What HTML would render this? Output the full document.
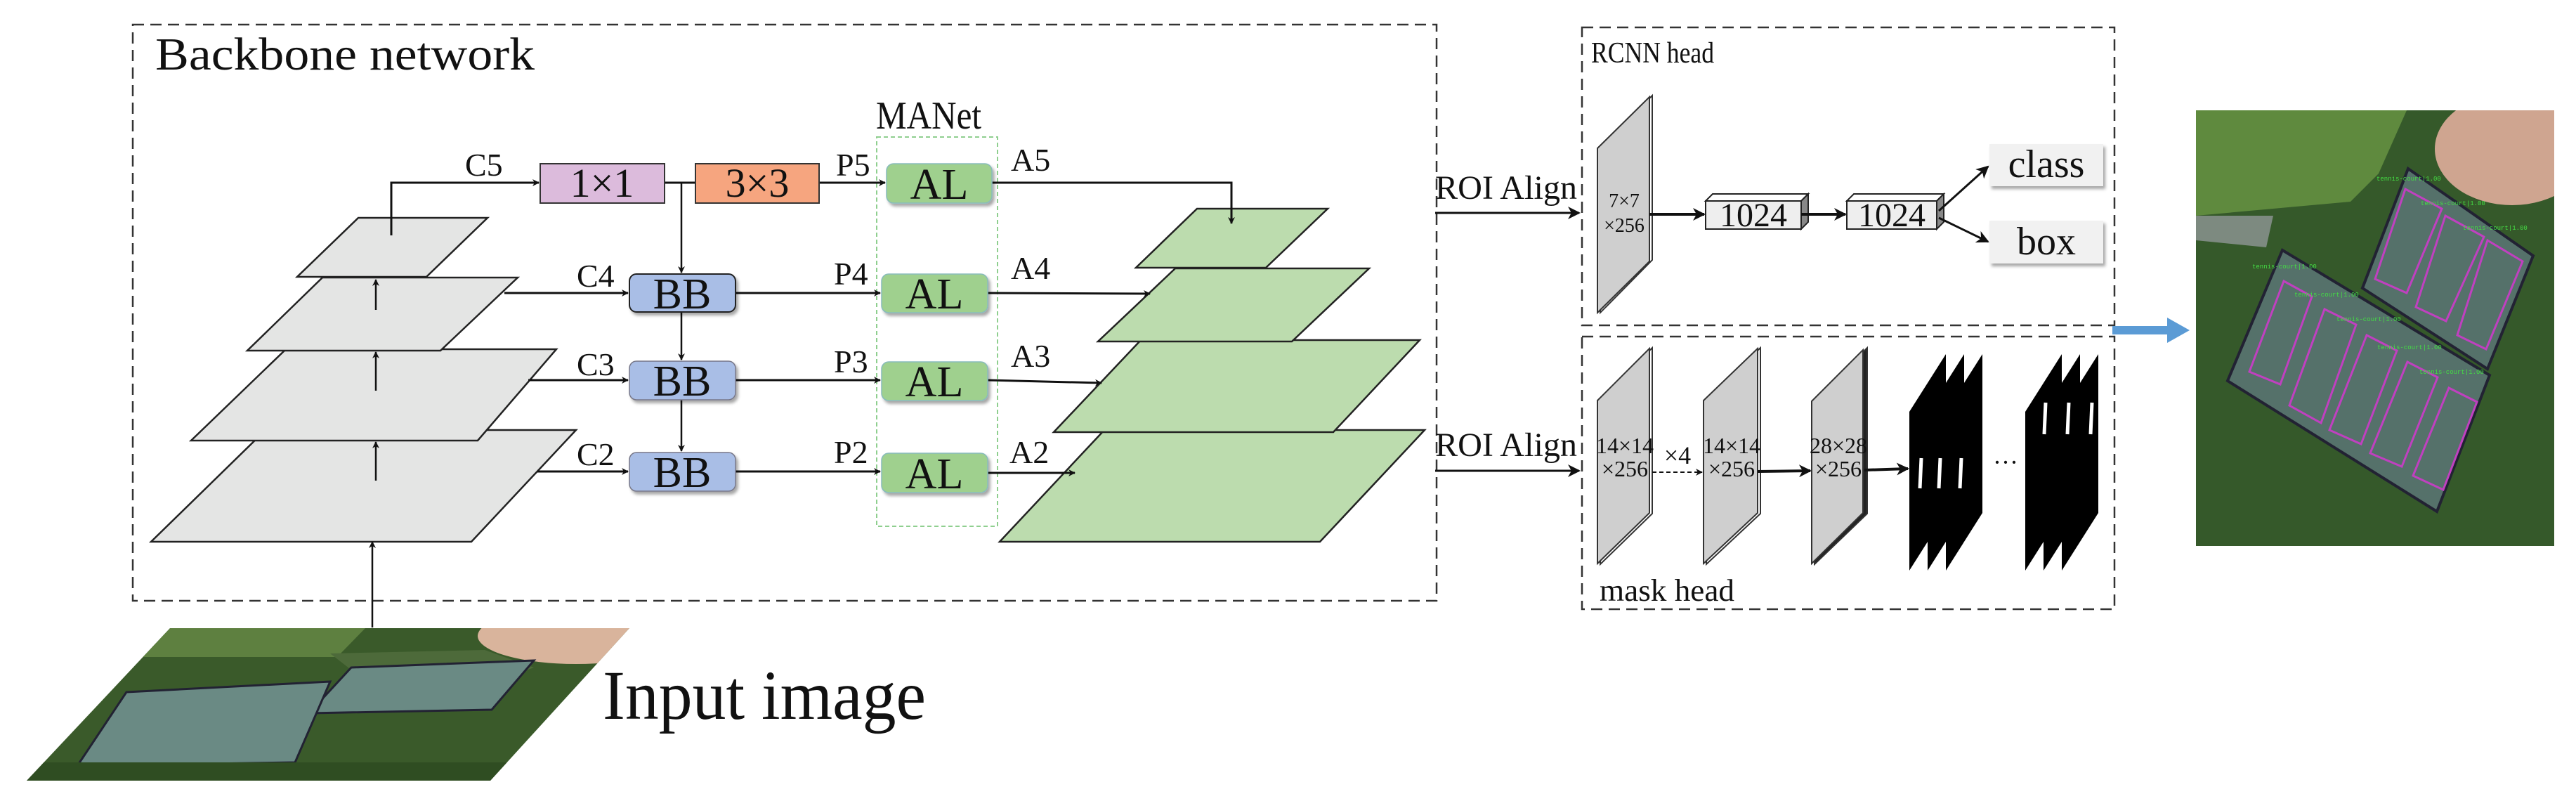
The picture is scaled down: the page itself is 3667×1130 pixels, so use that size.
<!DOCTYPE html>
<html><head><meta charset="utf-8"><style>
html,body{margin:0;padding:0;background:#fff;}
svg{display:block;}
</style></head><body>
<svg width="3667" height="1130" viewBox="0 0 3667 1130" xmlns="http://www.w3.org/2000/svg" font-family="'Liberation Serif','Times New Roman','DejaVu Serif',serif" fill="#111">
<defs>
<marker id="ah" markerWidth="10" markerHeight="10" refX="9" refY="5" orient="auto" markerUnits="userSpaceOnUse" viewBox="0 0 10 10">
<path d="M0,0 L10,5 L0,10 L3,5 z" fill="#111"/></marker>
<marker id="ahb" markerWidth="18" markerHeight="18" refX="16" refY="9" orient="auto" markerUnits="userSpaceOnUse" viewBox="0 0 18 18">
<path d="M0,0 L18,9 L0,18 L5,9 z" fill="#111"/></marker>
<filter id="sh" x="-10%" y="-10%" width="130%" height="140%"><feDropShadow dx="3" dy="4" stdDeviation="2" flood-color="#000" flood-opacity="0.35"/></filter>
<clipPath id="inClip"><polygon points="242,894 896,894 698,1111 38,1111"/></clipPath>
<clipPath id="phClip"><rect x="0" y="0" width="510" height="620"/></clipPath>
</defs>

<rect x="189" y="35" width="1856" height="820" fill="none" stroke="#333" stroke-width="2.5" stroke-dasharray="16,9"/>
<text x="221" y="99" font-size="66" textLength="540" lengthAdjust="spacingAndGlyphs">Backbone network</text>

<rect x="1248" y="195" width="172" height="554" fill="none" stroke="#8fcf8f" stroke-width="2" stroke-dasharray="6,4"/>
<text x="1247" y="183" font-size="56" textLength="150" lengthAdjust="spacingAndGlyphs">MANet</text>

<g fill="#e4e5e4" stroke="#222" stroke-width="2.5">
<polygon points="378,612 820,612 671,771 215,771"/>
<polygon points="407,497 792,497 680,627 272,627"/>
<polygon points="459,395 737,395 627,499 352,499"/>
<polygon points="510,310 694,310 607,394 423,394"/>
</g>
<g fill="#bcdcae" stroke="#222" stroke-width="2.5">
<polygon points="1572,612 2028,612 1879,771 1423,771"/>
<polygon points="1624,484 2021,484 1898,615 1500,615"/>
<polygon points="1673,382 1949,382 1839,486 1563,486"/>
<polygon points="1704,297 1890,297 1802,381 1617,381"/>
</g>

<g stroke="#111" stroke-width="2.5" fill="none" marker-end="url(#ah)">
<line x1="535" y1="441" x2="535" y2="398"/>
<line x1="535" y1="556" x2="535" y2="501"/>
<line x1="535" y1="684" x2="535" y2="629"/>
<line x1="530" y1="893" x2="530" y2="771"/>
</g>

<polyline points="557,335 557,260 767,260" stroke="#111" stroke-width="3" fill="none" marker-end="url(#ah)"/>
<line x1="946" y1="260" x2="990" y2="260" stroke="#111" stroke-width="3"/>
<line x1="970" y1="260" x2="970" y2="388" stroke="#111" stroke-width="2.5" marker-end="url(#ah)"/>
<line x1="970" y1="444" x2="970" y2="512" stroke="#111" stroke-width="2.5" marker-end="url(#ah)"/>
<line x1="970" y1="569" x2="970" y2="642" stroke="#111" stroke-width="2.5" marker-end="url(#ah)"/>
<line x1="1166" y1="260" x2="1260" y2="260" stroke="#111" stroke-width="3" marker-end="url(#ah)"/>

<g stroke="#111" stroke-width="3" fill="none" marker-end="url(#ah)">
<line x1="718" y1="417" x2="894" y2="417"/>
<line x1="752" y1="541" x2="894" y2="541"/>
<line x1="765" y1="671" x2="894" y2="671"/>
<line x1="1047" y1="417" x2="1253" y2="417"/>
<line x1="1047" y1="541" x2="1253" y2="541"/>
<line x1="1047" y1="671" x2="1253" y2="671"/>
<line x1="1406" y1="417" x2="1637" y2="418"/>
<line x1="1406" y1="541" x2="1568" y2="545"/>
<line x1="1406" y1="673" x2="1530" y2="673"/>
<polyline points="1412,260 1753,260 1753,318"/>
</g>

<rect x="769" y="233" width="177" height="56" fill="#dcbbdc" stroke="#333" stroke-width="2"/>
<text x="857" y="280" font-size="58" text-anchor="middle">1×1</text>
<rect x="990" y="233" width="176" height="56" fill="#f6a57f" stroke="#333" stroke-width="2"/>
<text x="1078" y="280" font-size="58" text-anchor="middle">3×3</text>

<g filter="url(#sh)">
<rect x="896" y="390" width="151" height="54" rx="10" fill="#a9bee6" stroke="#222" stroke-width="2"/>
<rect x="896" y="514" width="151" height="55" rx="10" fill="#a9bee6" stroke="#778" stroke-width="1.5"/>
<rect x="896" y="644" width="151" height="55" rx="10" fill="#a9bee6" stroke="#778" stroke-width="1.5"/>
<rect x="1262" y="233" width="150" height="56" rx="10" fill="#9fd08e" stroke="#8bb" stroke-width="1.5"/>
<rect x="1255" y="390" width="151" height="55" rx="10" fill="#9fd08e" stroke="#8bb" stroke-width="1.5"/>
<rect x="1255" y="515" width="151" height="55" rx="10" fill="#9fd08e" stroke="#8bb" stroke-width="1.5"/>
<rect x="1255" y="645" width="151" height="56" rx="10" fill="#9fd08e" stroke="#8bb" stroke-width="1.5"/>
</g>
<g font-size="62" text-anchor="middle">
<text x="971" y="439">BB</text>
<text x="971" y="563">BB</text>
<text x="971" y="693">BB</text>
<text x="1337" y="283">AL</text>
<text x="1330" y="439">AL</text>
<text x="1330" y="564">AL</text>
<text x="1330" y="695">AL</text>
</g>
<g font-size="46">
<text x="662" y="250">C5</text>
<text x="821" y="408">C4</text>
<text x="821" y="534">C3</text>
<text x="821" y="662">C2</text>
<text x="1190" y="250">P5</text>
<text x="1187" y="405">P4</text>
<text x="1187" y="530">P3</text>
<text x="1187" y="659">P2</text>
<text x="1439" y="243">A5</text>
<text x="1439" y="397">A4</text>
<text x="1439" y="522">A3</text>
<text x="1437" y="659">A2</text>
</g>

<g clip-path="url(#inClip)">
<rect x="30" y="890" width="880" height="230" fill="#3a5a2a"/>
<polygon points="242,894 520,894 480,935 200,935" fill="#5e8040"/>
<ellipse cx="820" cy="905" rx="140" ry="40" fill="#d9b49c"/>
<polygon points="470,930 690,925 760,950 600,1010 560,1000" fill="#4d6a3a"/>
<polygon points="500,950 760,940 700,1010 440,1015" fill="#6a8a84" stroke="#223" stroke-width="3"/>
<polygon points="180,985 470,970 420,1085 110,1090" fill="#6a8a84" stroke="#223" stroke-width="3"/>
<rect x="30" y="1085" width="880" height="40" fill="#2f4d22"/>
</g>
<text x="858" y="1023" font-size="100" textLength="460" lengthAdjust="spacingAndGlyphs">Input image</text>

<text x="2043" y="283" font-size="48" textLength="202" lengthAdjust="spacingAndGlyphs">ROI Align</text>
<text x="2043" y="649" font-size="48" textLength="202" lengthAdjust="spacingAndGlyphs">ROI Align</text>
<line x1="2043" y1="303" x2="2248" y2="303" stroke="#111" stroke-width="3" marker-end="url(#ahb)"/>
<line x1="2043" y1="670" x2="2248" y2="670" stroke="#111" stroke-width="3" marker-end="url(#ahb)"/>

<rect x="2252" y="39" width="758" height="424" fill="none" stroke="#333" stroke-width="2.5" stroke-dasharray="16,9"/>
<text x="2265" y="89" font-size="42" textLength="175" lengthAdjust="spacingAndGlyphs">RCNN head</text>
<polygon points="2278,209 2352,136 2352,370 2278,445" fill="#fff" stroke="#333" stroke-width="2"/>
<polygon points="2274,211 2348,138 2348,372 2274,445" fill="#cfcfcf" stroke="#333" stroke-width="2"/>
<text x="2312" y="295" font-size="28" text-anchor="middle">7×7</text>
<text x="2312" y="330" font-size="28" text-anchor="middle">×256</text>
<line x1="2348" y1="305" x2="2426" y2="305" stroke="#111" stroke-width="4" marker-end="url(#ahb)"/>
<g stroke="#222" stroke-width="2">
<polygon points="2428,286 2438,276 2574,276 2564,286" fill="#fff"/>
<polygon points="2564,286 2574,276 2574,316 2564,326" fill="#888"/>
<rect x="2428" y="286" width="136" height="40" fill="#eee"/>
<polygon points="2629,286 2639,276 2767,276 2757,286" fill="#fff"/>
<polygon points="2757,286 2767,276 2767,316 2757,326" fill="#888"/>
<rect x="2629" y="286" width="128" height="40" fill="#eee"/>
</g>
<text x="2496" y="322" font-size="48" text-anchor="middle">1024</text>
<text x="2693" y="322" font-size="48" text-anchor="middle">1024</text>
<line x1="2564" y1="305" x2="2627" y2="305" stroke="#111" stroke-width="4" marker-end="url(#ahb)"/>
<line x1="2760" y1="300" x2="2830" y2="237" stroke="#111" stroke-width="3" marker-end="url(#ahb)"/>
<line x1="2760" y1="310" x2="2830" y2="344" stroke="#111" stroke-width="3" marker-end="url(#ahb)"/>
<rect x="2832" y="205" width="162" height="60" fill="#f1f1f1" filter="url(#sh)"/>
<rect x="2832" y="314" width="162" height="61" fill="#f1f1f1" filter="url(#sh)"/>
<text x="2913" y="252" font-size="56" text-anchor="middle">class</text>
<text x="2913" y="362" font-size="56" text-anchor="middle">box</text>

<rect x="2252" y="479" width="758" height="388" fill="none" stroke="#333" stroke-width="2.5" stroke-dasharray="16,9"/>
<text x="2277" y="855" font-size="44" textLength="192" lengthAdjust="spacingAndGlyphs">mask head</text>
<g stroke="#333" stroke-width="2">
<polygon points="2278,569 2352,495 2352,731 2278,803" fill="#fff"/>
<polygon points="2274,570 2348,496 2348,730 2274,802" fill="#cfcfcf"/>
<polygon points="2429,569 2506,495 2506,731 2429,803" fill="#fff"/>
<polygon points="2425,570 2502,496 2502,730 2425,802" fill="#cfcfcf"/>
<polygon points="2583,569 2658,495 2658,731 2583,803" fill="#222"/>
<polygon points="2579,571 2652,498 2652,730 2579,802" fill="#cfcfcf"/>
</g>
<g font-size="32" text-anchor="middle">
<text x="2313" y="645">14×14</text><text x="2313" y="678">×256</text>
<text x="2465" y="645">14×14</text><text x="2465" y="678">×256</text>
<text x="2617" y="645">28×28</text><text x="2617" y="678">×256</text>
<text x="2388" y="660" font-size="36">×4</text>
</g>
<line x1="2352" y1="672" x2="2423" y2="672" stroke="#111" stroke-width="2" stroke-dasharray="6,4" marker-end="url(#ah)"/>
<line x1="2502" y1="671" x2="2577" y2="670" stroke="#111" stroke-width="4" marker-end="url(#ahb)"/>
<line x1="2654" y1="669" x2="2716" y2="667" stroke="#111" stroke-width="4" marker-end="url(#ahb)"/>
<g fill="#000">
<polygon points="2718,586 2770,504 2770,730 2718,812"/>
<polygon points="2744,586 2796,504 2796,730 2744,812"/>
<polygon points="2770,586 2822,504 2822,730 2770,812"/>
<polygon points="2883,586 2935,504 2935,730 2883,812"/>
<polygon points="2909,586 2961,504 2961,730 2909,812"/>
<polygon points="2935,586 2987,504 2987,730 2935,812"/>
</g>
<g stroke="#fff" stroke-width="5">
<line x1="2735" y1="652" x2="2733" y2="695"/><line x1="2762" y1="652" x2="2760" y2="695"/><line x1="2792" y1="652" x2="2790" y2="695"/>
<line x1="2912" y1="573" x2="2910" y2="618"/><line x1="2945" y1="573" x2="2943" y2="618"/><line x1="2978" y1="573" x2="2976" y2="618"/>
</g>
<text x="2855" y="670" font-size="36" text-anchor="middle">···</text>

<polygon points="3007,464 3085,464 3085,452 3117,470 3085,488 3085,476 3007,476" fill="#5b9bd5"/>

<g transform="translate(3126,157)" clip-path="url(#phClip)">
<rect width="510" height="620" fill="#35592a"/>
<polygon points="0,0 300,0 260,90 220,130 0,150" fill="#5f8a3e"/>
<ellipse cx="450" cy="55" rx="110" ry="80" fill="#cfa590"/>
<polygon points="0,150 110,150 100,195 0,185" fill="#7d8a80"/>
<polygon points="123,199 418,377 343,571 45,385" fill="#55716a" stroke="#223" stroke-width="4"/>
<polygon points="302,83 480,207 415,368 237,253" fill="#55716a" stroke="#223" stroke-width="4"/>
<g fill="none" stroke="#c040c0" stroke-width="3">
<polygon points="125,243 165,265 120,390 76,372"/>
<polygon points="183,283 228,305 178,445 133,420"/>
<polygon points="243,320 286,342 235,475 190,455"/>
<polygon points="301,358 344,380 293,507 248,488"/>
<polygon points="360,395 400,415 352,540 309,520"/>
<polygon points="298,112 350,140 300,260 255,240"/>
<polygon points="355,150 410,180 356,300 313,280"/>
<polygon points="415,185 465,215 413,340 372,320"/>
</g>
<g font-size="9" font-family="'Liberation Mono',monospace" fill="#4d4">
<text x="257" y="100">tennis-court|1.00</text>
<text x="320" y="135">tennis-court|1.00</text>
<text x="380" y="170">tennis-court|1.00</text>
<text x="80" y="225">tennis-court|1.00</text>
<text x="140" y="265">tennis-court|1.00</text>
<text x="200" y="300">tennis-court|1.00</text>
<text x="258" y="340">tennis-court|1.00</text>
<text x="318" y="375">tennis-court|1.00</text>
</g>
</g>
</svg>
</body></html>
